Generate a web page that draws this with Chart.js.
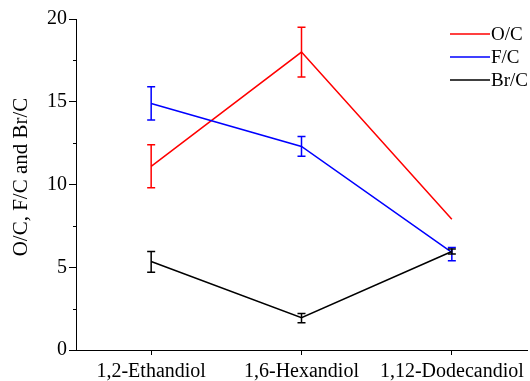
<!DOCTYPE html>
<html>
<head>
<meta charset="utf-8">
<script src="https://cdn.jsdelivr.net/npm/chart.js@4.4.0/dist/chart.umd.min.js"></script>
<style>
  html, body { margin: 0; padding: 0; background: #fff; }
  #wrap { width: 530px; height: 381px; }
</style>
</head>
<body>
<div id="wrap"><canvas id="myChart"></canvas></div>
<script>
const categories = ['1,2-Ethandiol', '1,6-Hexandiol', '1,12-Dodecandiol'];
const seriesNames = ['O/C', 'F/C', 'Br/C'];
const seriesColors = ['#ff0000', '#0000ff', '#000000'];
const yTitle = 'O/C, F/C and Br/C';

const ocValues = [11.1, 18.0, 7.9];
const fcValues = [14.9, 12.3, 5.9];
const brValues = [5.35, 1.95, 5.95];

// [low, high] of each error bar, null where none is drawn
const ocErrors = [[9.8, 12.4], [16.5, 19.5], null];
const fcErrors = [[13.9, 15.9], [11.7, 12.9], [5.4, 6.2]];
const brErrors = [[4.7, 5.95], [1.65, 2.2], [5.8, 6.1]];

const yTicks = [0, 5, 10, 15, 20];
const yMinorTicks = [2.5, 7.5, 12.5, 17.5];

const serif = 'Liberation Serif';

// error bars with caps
const errorBars = {
    id: 'errorBars',
    afterDatasetsDraw(chart) {
        const ctx = chart.ctx;
        const y = chart.scales.y;
        chart.data.datasets.forEach((ds, i) => {
            const meta = chart.getDatasetMeta(i);
            ctx.save();
            ctx.strokeStyle = ds.borderColor;
            ctx.lineWidth = 1.5;
            ds.errors.forEach((e, j) => {
                if (!e) return;
                const px = meta.data[j].x;
                const lo = y.getPixelForValue(e[0]);
                const hi = y.getPixelForValue(e[1]);
                ctx.beginPath();
                ctx.moveTo(px, lo); ctx.lineTo(px, hi);
                ctx.moveTo(px - 4, lo); ctx.lineTo(px + 4, lo);
                ctx.moveTo(px - 4, hi); ctx.lineTo(px + 4, hi);
                ctx.stroke();
            });
            ctx.restore();
        });
    }
};

// minor y ticks, y title and the legend in the top right corner
const extras = {
    id: 'extras',
    afterDraw(chart) {
        const ctx = chart.ctx;
        const y = chart.scales.y;
        const left = chart.chartArea.left;
        ctx.save();
        ctx.strokeStyle = '#000';
        ctx.lineWidth = 1;
        yMinorTicks.forEach(v => {
            const py = Math.round(y.getPixelForValue(v)) + 0.5;
            ctx.beginPath();
            ctx.moveTo(left - 3, py); ctx.lineTo(left, py);
            ctx.stroke();
        });
        ctx.fillStyle = '#000';
        ctx.font = '21px "' + serif + '"';
        ctx.textAlign = 'center';
        ctx.textBaseline = 'middle';
        ctx.save();
        ctx.translate(21, 177);
        ctx.rotate(-Math.PI / 2);
        ctx.fillText(yTitle, 0, 0);
        ctx.restore();

        ctx.font = '19px "' + serif + '"';
        ctx.textAlign = 'left';
        seriesNames.forEach((name, i) => {
            const py = 34 + i * 23;
            ctx.strokeStyle = seriesColors[i];
            ctx.lineWidth = 1.5;
            ctx.beginPath();
            ctx.moveTo(450, py); ctx.lineTo(490, py);
            ctx.stroke();
            ctx.fillText(name, 491, py + 1);
        });
        ctx.restore();
    }
};

const ctx = document.getElementById('myChart').getContext('2d');
const chart = new Chart(ctx, {
    type: 'line',
    data: {
        labels: categories,
        datasets: [
            { label: seriesNames[0], data: ocValues, errors: ocErrors, borderColor: seriesColors[0], order: 2 },
            { label: seriesNames[1], data: fcValues, errors: fcErrors, borderColor: seriesColors[1], order: 1 },
            { label: seriesNames[2], data: brValues, errors: brErrors, borderColor: seriesColors[2], order: 0 },
        ].map(d => Object.assign(d, { borderWidth: 1.5, pointRadius: 0, tension: 0, fill: false })),
    },
    options: {
        responsive: true,
        maintainAspectRatio: false,
        animation: false,
        layout: { padding: { top: 19, right: 3, left: 0, bottom: 0 } },
        plugins: { legend: { display: false }, tooltip: { enabled: false } },
        scales: {
            x: {
                type: 'category',
                offset: true,
                grid: { drawOnChartArea: false, drawTicks: true, tickLength: 5, color: '#000', offset: false },
                border: { color: '#000', width: 1 },
                ticks: { color: '#000', font: { family: serif, size: 20 }, padding: 5, maxRotation: 0, autoSkip: false },
                afterFit(scale) { scale.height = 31; },
            },
            y: {
                min: 0,
                max: 20,
                afterBuildTicks(scale) { scale.ticks = yTicks.map(v => ({ value: v })); },
                grid: { drawOnChartArea: false, drawTicks: true, tickLength: 7, color: '#000' },
                border: { color: '#000', width: 1 },
                ticks: { color: '#000', font: { family: serif, size: 20 }, padding: 2 },
                afterFit(scale) { scale.width = 76; },
            },
        },
    },
    plugins: [errorBars, extras],
});
</script>
</body>
</html>
